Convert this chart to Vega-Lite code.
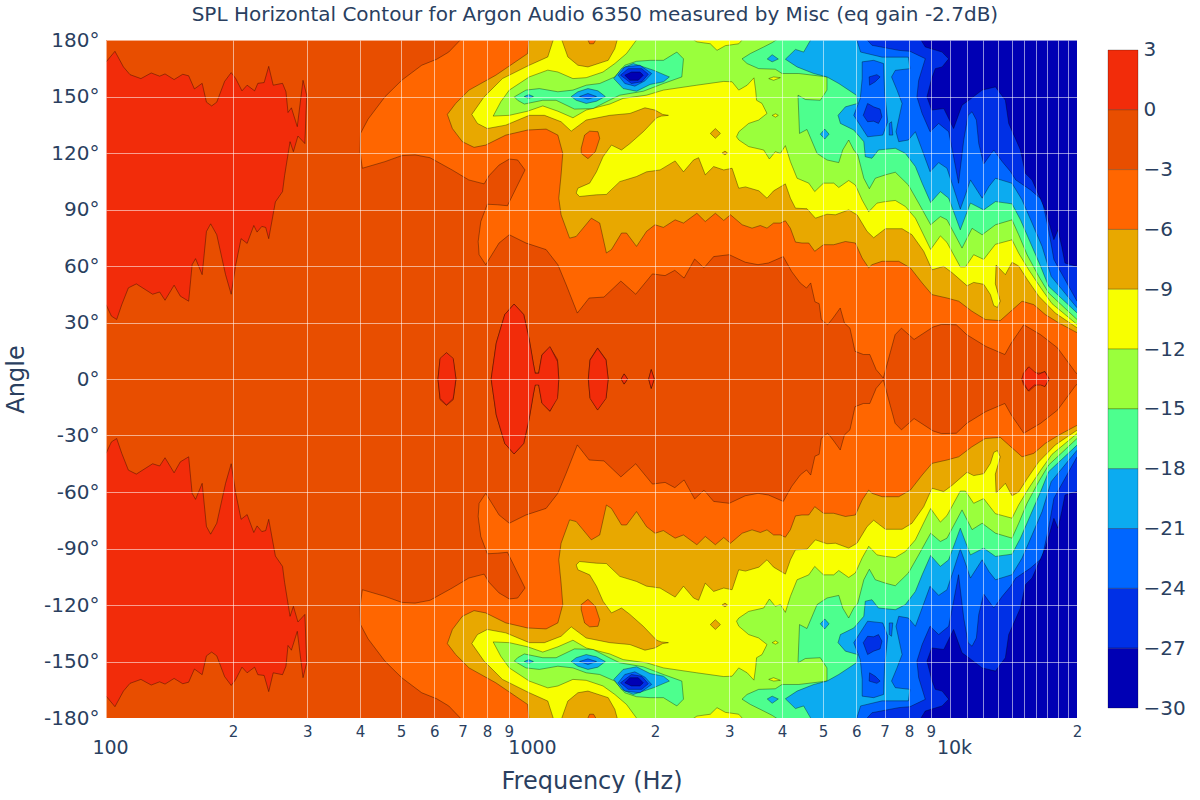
{"$schema":"https://vega.github.io/schema/vega-lite/v6.json","padding":{"left":4,"top":5,"right":0,"bottom":0},"title":{"text":"SPL Horizontal Contour for Argon Audio 6350 measured by Misc (eq gain -2.7dB)","font":"DejaVu Sans","fontSize":20,"fontWeight":"normal","color":"#2a3f5f","anchor":"middle","offset":5},"config":{"view":{"stroke":null},"font":"DejaVu Sans"},"spacing":25,
"datasets":{"bands":[{"l":0,"lo":0,"hi":3},{"l":-3,"lo":-3,"hi":0},{"l":-6,"lo":-6,"hi":-3},{"l":-9,"lo":-9,"hi":-6},{"l":-12,"lo":-12,"hi":-9},{"l":-15,"lo":-15,"hi":-12},{"l":-18,"lo":-18,"hi":-15},{"l":-21,"lo":-21,"hi":-18},{"l":-24,"lo":-24,"hi":-21},{"l":-27,"lo":-27,"hi":-24},{"l":-30,"lo":-30,"hi":-27}],
"poly":[
{"p":1,"l":0,"f":98,"a":168.3},{"p":1,"l":0,"f":100,"a":168.3},{"p":1,"l":0,"f":105,"a":174},{"p":1,"l":0,"f":110,"a":165.7},{"p":1,"l":0,"f":114,"a":161.6},{"p":1,"l":0,"f":121,"a":159.5},{"p":1,"l":0,"f":128,"a":162.5},{"p":1,"l":0,"f":134,"a":160.8},{"p":1,"l":0,"f":138,"a":162},{"p":1,"l":0,"f":145,"a":159},{"p":1,"l":0,"f":152,"a":161.8},{"p":1,"l":0,"f":157,"a":161},{"p":1,"l":0,"f":162,"a":154},{"p":1,"l":0,"f":169,"a":157},{"p":1,"l":0,"f":173,"a":147},{"p":1,"l":0,"f":178,"a":145},{"p":1,"l":0,"f":183,"a":147},{"p":1,"l":0,"f":191,"a":158},{"p":1,"l":0,"f":198,"a":162.7},{"p":1,"l":0,"f":203,"a":159.5},{"p":1,"l":0,"f":210,"a":153},{"p":1,"l":0,"f":216,"a":156},{"p":1,"l":0,"f":225,"a":153},{"p":1,"l":0,"f":229,"a":157},{"p":1,"l":0,"f":237,"a":157.4},{"p":1,"l":0,"f":243,"a":166},{"p":1,"l":0,"f":249,"a":156},{"p":1,"l":0,"f":262,"a":157},{"p":1,"l":0,"f":267,"a":152.5},{"p":1,"l":0,"f":270,"a":141.5},{"p":1,"l":0,"f":275,"a":144},{"p":1,"l":0,"f":284,"a":134},{"p":1,"l":0,"f":293,"a":158.6},{"p":1,"l":0,"f":299,"a":150.7},{"p":1,"l":0,"f":296,"a":125},{"p":1,"l":0,"f":285,"a":129},{"p":1,"l":0,"f":278,"a":120.7},{"p":1,"l":0,"f":273,"a":126},{"p":1,"l":0,"f":265,"a":108},{"p":1,"l":0,"f":262,"a":99.5},{"p":1,"l":0,"f":252,"a":94},{"p":1,"l":0,"f":243,"a":74.5},{"p":1,"l":0,"f":239,"a":80.5},{"p":1,"l":0,"f":234,"a":81},{"p":1,"l":0,"f":228,"a":78},{"p":1,"l":0,"f":224,"a":81.5},{"p":1,"l":0,"f":216,"a":72},{"p":1,"l":0,"f":209,"a":74.5},{"p":1,"l":0,"f":203,"a":60.7},{"p":1,"l":0,"f":198,"a":45},{"p":1,"l":0,"f":192,"a":55.4},{"p":1,"l":0,"f":183,"a":76.6},{"p":1,"l":0,"f":177,"a":82.4},{"p":1,"l":0,"f":173,"a":78.3},{"p":1,"l":0,"f":169,"a":55.4},{"p":1,"l":0,"f":163,"a":63.9},{"p":1,"l":0,"f":160,"a":60.7},{"p":1,"l":0,"f":157,"a":41.3},{"p":1,"l":0,"f":150,"a":44},{"p":1,"l":0,"f":145,"a":49.8},{"p":1,"l":0,"f":138,"a":41.8},{"p":1,"l":0,"f":134,"a":46.2},{"p":1,"l":0,"f":129,"a":45},{"p":1,"l":0,"f":118,"a":50.5},{"p":1,"l":0,"f":113,"a":48.4},{"p":1,"l":0,"f":109,"a":39.5},{"p":1,"l":0,"f":106,"a":31.6},{"p":1,"l":0,"f":103,"a":33.4},{"p":1,"l":0,"f":100,"a":39.5},{"p":1,"l":0,"f":98,"a":39.5},
{"p":2,"l":-6,"f":705,"a":182},{"p":2,"l":-6,"f":649,"a":173.6},{"p":2,"l":-6,"f":608,"a":169.8},{"p":2,"l":-6,"f":560,"a":166.6},{"p":2,"l":-6,"f":502,"a":158.6},{"p":2,"l":-6,"f":458,"a":149.8},{"p":2,"l":-6,"f":418,"a":138},{"p":2,"l":-6,"f":401,"a":130.4},{"p":2,"l":-6,"f":400,"a":120.7},{"p":2,"l":-6,"f":405,"a":111.9},{"p":2,"l":-6,"f":458,"a":115.4},{"p":2,"l":-6,"f":502,"a":118.6},{"p":2,"l":-6,"f":540,"a":119},{"p":2,"l":-6,"f":586,"a":117.5},{"p":2,"l":-6,"f":661,"a":111},{"p":2,"l":-6,"f":724,"a":105.7},{"p":2,"l":-6,"f":787,"a":103.6},{"p":2,"l":-6,"f":809,"a":108},{"p":2,"l":-6,"f":854,"a":113.6},{"p":2,"l":-6,"f":903,"a":116.8},{"p":2,"l":-6,"f":945,"a":116.3},{"p":2,"l":-6,"f":984,"a":111},{"p":2,"l":-6,"f":945,"a":103},{"p":2,"l":-6,"f":894,"a":92},{"p":2,"l":-6,"f":847,"a":92.5},{"p":2,"l":-6,"f":801,"a":92.8},{"p":2,"l":-6,"f":773,"a":83.6},{"p":2,"l":-6,"f":762,"a":73},{"p":2,"l":-6,"f":766,"a":66},{"p":2,"l":-6,"f":794,"a":60.7},{"p":2,"l":-6,"f":854,"a":72.2},{"p":2,"l":-6,"f":903,"a":76.6},{"p":2,"l":-6,"f":989,"a":72.2},{"p":2,"l":-6,"f":1104,"a":68.7},{"p":2,"l":-6,"f":1177,"a":60.7},{"p":2,"l":-6,"f":1232,"a":50},{"p":2,"l":-6,"f":1309,"a":35},{"p":2,"l":-6,"f":1396,"a":43},{"p":2,"l":-6,"f":1514,"a":43.5},{"p":2,"l":-6,"f":1660,"a":52},{"p":2,"l":-6,"f":1800,"a":45},{"p":2,"l":-6,"f":1972,"a":55.8},{"p":2,"l":-6,"f":2113,"a":54.9},{"p":2,"l":-6,"f":2228,"a":57.7},{"p":2,"l":-6,"f":2344,"a":53.6},{"p":2,"l":-6,"f":2483,"a":63.7},{"p":2,"l":-6,"f":2612,"a":59},{"p":2,"l":-6,"f":2754,"a":65},{"p":2,"l":-6,"f":2999,"a":66},{"p":2,"l":-6,"f":3273,"a":62},{"p":2,"l":-6,"f":3508,"a":60.7},{"p":2,"l":-6,"f":3715,"a":61.6},{"p":2,"l":-6,"f":4027,"a":65},{"p":2,"l":-6,"f":4217,"a":57},{"p":2,"l":-6,"f":4416,"a":51},{"p":2,"l":-6,"f":4571,"a":48.3},{"p":2,"l":-6,"f":4677,"a":51},{"p":2,"l":-6,"f":4786,"a":41},{"p":2,"l":-6,"f":4898,"a":40},{"p":2,"l":-6,"f":4955,"a":31.5},{"p":2,"l":-6,"f":5129,"a":28.8},{"p":2,"l":-6,"f":5284,"a":32.4},{"p":2,"l":-6,"f":5495,"a":37.7},{"p":2,"l":-6,"f":5623,"a":29.7},{"p":2,"l":-6,"f":5794,"a":27},{"p":2,"l":-6,"f":5957,"a":14.7},{"p":2,"l":-6,"f":6237,"a":13},{"p":2,"l":-6,"f":6457,"a":13},{"p":2,"l":-6,"f":6683,"a":5},{"p":2,"l":-6,"f":6950,"a":0.5},{"p":2,"l":-6,"f":7413,"a":23.5},{"p":2,"l":-6,"f":7674,"a":27},{"p":2,"l":-6,"f":8222,"a":21},{"p":2,"l":-6,"f":9120,"a":27.6},{"p":2,"l":-6,"f":9550,"a":29},{"p":2,"l":-6,"f":10351,"a":28.8},{"p":2,"l":-6,"f":10965,"a":23.5},{"p":2,"l":-6,"f":12161,"a":17.3},{"p":2,"l":-6,"f":13490,"a":13},{"p":2,"l":-6,"f":13964,"a":19},{"p":2,"l":-6,"f":14962,"a":28.8},{"p":2,"l":-6,"f":16406,"a":23.5},{"p":2,"l":-6,"f":17989,"a":16.5},{"p":2,"l":-6,"f":19770,"a":4},{"p":2,"l":-6,"f":20500,"a":0},{"p":2,"l":-6,"f":20500,"a":182},
{"p":3,"l":-9,"f":1007,"a":182},{"p":3,"l":-9,"f":998,"a":172.8},{"p":3,"l":-9,"f":839,"a":161.3},{"p":3,"l":-9,"f":725,"a":153.4},{"p":3,"l":-9,"f":674,"a":146.3},{"p":3,"l":-9,"f":644,"a":140.5},{"p":3,"l":-9,"f":662,"a":133},{"p":3,"l":-9,"f":699,"a":126},{"p":3,"l":-9,"f":745,"a":123},{"p":3,"l":-9,"f":794,"a":124.2},{"p":3,"l":-9,"f":886,"a":129.5},{"p":3,"l":-9,"f":998,"a":132.2},{"p":3,"l":-9,"f":1104,"a":132.7},{"p":3,"l":-9,"f":1177,"a":129.5},{"p":3,"l":-9,"f":1209,"a":119.8},{"p":3,"l":-9,"f":1198,"a":108.4},{"p":3,"l":-9,"f":1183,"a":96},{"p":3,"l":-9,"f":1198,"a":87.2},{"p":3,"l":-9,"f":1255,"a":74.8},{"p":3,"l":-9,"f":1301,"a":75.7},{"p":3,"l":-9,"f":1413,"a":85.4},{"p":3,"l":-9,"f":1479,"a":82.8},{"p":3,"l":-9,"f":1534,"a":66.9},{"p":3,"l":-9,"f":1577,"a":68.7},{"p":3,"l":-9,"f":1666,"a":77.5},{"p":3,"l":-9,"f":1712,"a":77.5},{"p":3,"l":-9,"f":1808,"a":70.4},{"p":3,"l":-9,"f":1910,"a":78.4},{"p":3,"l":-9,"f":2000,"a":81.9},{"p":3,"l":-9,"f":2094,"a":80.5},{"p":3,"l":-9,"f":2232,"a":84.5},{"p":3,"l":-9,"f":2336,"a":82.8},{"p":3,"l":-9,"f":2513,"a":88},{"p":3,"l":-9,"f":2631,"a":83.6},{"p":3,"l":-9,"f":2780,"a":88},{"p":3,"l":-9,"f":2910,"a":84.2},{"p":3,"l":-9,"f":3019,"a":87.2},{"p":3,"l":-9,"f":3218,"a":81.9},{"p":3,"l":-9,"f":3396,"a":80.1},{"p":3,"l":-9,"f":3553,"a":81.5},{"p":3,"l":-9,"f":3685,"a":80.1},{"p":3,"l":-9,"f":3820,"a":82.8},{"p":3,"l":-9,"f":3964,"a":82.8},{"p":3,"l":-9,"f":4073,"a":84},{"p":3,"l":-9,"f":4187,"a":80},{"p":3,"l":-9,"f":4304,"a":72.7},{"p":3,"l":-9,"f":4458,"a":72.2},{"p":3,"l":-9,"f":4628,"a":72.2},{"p":3,"l":-9,"f":4781,"a":67.8},{"p":3,"l":-9,"f":5015,"a":71.3},{"p":3,"l":-9,"f":5304,"a":71.3},{"p":3,"l":-9,"f":5651,"a":73},{"p":3,"l":-9,"f":5968,"a":72.2},{"p":3,"l":-9,"f":6194,"a":64.2},{"p":3,"l":-9,"f":6419,"a":59},{"p":3,"l":-9,"f":6534,"a":60.7},{"p":3,"l":-9,"f":6904,"a":62.5},{"p":3,"l":-9,"f":7560,"a":62.5},{"p":3,"l":-9,"f":8055,"a":59},{"p":3,"l":-9,"f":8590,"a":51},{"p":3,"l":-9,"f":9067,"a":44.8},{"p":3,"l":-9,"f":9842,"a":43},{"p":3,"l":-9,"f":10490,"a":41.3},{"p":3,"l":-9,"f":11270,"a":36},{"p":3,"l":-9,"f":12130,"a":31.6},{"p":3,"l":-9,"f":13160,"a":31},{"p":3,"l":-9,"f":13780,"a":35},{"p":3,"l":-9,"f":14820,"a":41.3},{"p":3,"l":-9,"f":15790,"a":39.5},{"p":3,"l":-9,"f":16830,"a":34.2},{"p":3,"l":-9,"f":18110,"a":29.8},{"p":3,"l":-9,"f":20000,"a":24.6},{"p":3,"l":-9,"f":20500,"a":24},{"p":3,"l":-9,"f":20500,"a":182},
{"p":4,"l":-12,"f":1155,"a":182},{"p":4,"l":-12,"f":1114,"a":171},{"p":4,"l":-12,"f":1007,"a":166.6},{"p":4,"l":-12,"f":870,"a":159.5},{"p":4,"l":-12,"f":787,"a":149.8},{"p":4,"l":-12,"f":736,"a":140.5},{"p":4,"l":-12,"f":759,"a":135.7},{"p":4,"l":-12,"f":801,"a":133},{"p":4,"l":-12,"f":886,"a":134.8},{"p":4,"l":-12,"f":1007,"a":140},{"p":4,"l":-12,"f":1094,"a":140},{"p":4,"l":-12,"f":1198,"a":136.6},{"p":4,"l":-12,"f":1266,"a":131.6},{"p":4,"l":-12,"f":1374,"a":137.5},{"p":4,"l":-12,"f":1563,"a":140},{"p":4,"l":-12,"f":1744,"a":141},{"p":4,"l":-12,"f":1893,"a":144},{"p":4,"l":-12,"f":2000,"a":142.8},{"p":4,"l":-12,"f":2085,"a":140.5},{"p":4,"l":-12,"f":2152,"a":140},{"p":4,"l":-12,"f":2070,"a":139.6},{"p":4,"l":-12,"f":2018,"a":138.7},{"p":4,"l":-12,"f":1876,"a":131.3},{"p":4,"l":-12,"f":1744,"a":125},{"p":4,"l":-12,"f":1666,"a":121.6},{"p":4,"l":-12,"f":1577,"a":124.2},{"p":4,"l":-12,"f":1506,"a":118},{"p":4,"l":-12,"f":1453,"a":110},{"p":4,"l":-12,"f":1400,"a":104},{"p":4,"l":-12,"f":1313,"a":101.3},{"p":4,"l":-12,"f":1301,"a":98.7},{"p":4,"l":-12,"f":1325,"a":96.9},{"p":4,"l":-12,"f":1453,"a":97.8},{"p":4,"l":-12,"f":1534,"a":98},{"p":4,"l":-12,"f":1650,"a":104.8},{"p":4,"l":-12,"f":1808,"a":107.5},{"p":4,"l":-12,"f":1910,"a":110},{"p":4,"l":-12,"f":2056,"a":111},{"p":4,"l":-12,"f":2232,"a":115.8},{"p":4,"l":-12,"f":2336,"a":110},{"p":4,"l":-12,"f":2468,"a":116.3},{"p":4,"l":-12,"f":2537,"a":117.5},{"p":4,"l":-12,"f":2631,"a":108.4},{"p":4,"l":-12,"f":2754,"a":112.8},{"p":4,"l":-12,"f":2910,"a":111},{"p":4,"l":-12,"f":3045,"a":111.9},{"p":4,"l":-12,"f":3158,"a":101.3},{"p":4,"l":-12,"f":3277,"a":102},{"p":4,"l":-12,"f":3526,"a":99.9},{"p":4,"l":-12,"f":3685,"a":96},{"p":4,"l":-12,"f":3820,"a":99.9},{"p":4,"l":-12,"f":4073,"a":103.6},{"p":4,"l":-12,"f":4187,"a":96},{"p":4,"l":-12,"f":4304,"a":90.7},{"p":4,"l":-12,"f":4583,"a":90.4},{"p":4,"l":-12,"f":4799,"a":85.4},{"p":4,"l":-12,"f":5111,"a":87.5},{"p":4,"l":-12,"f":5353,"a":87.2},{"p":4,"l":-12,"f":5754,"a":89.8},{"p":4,"l":-12,"f":6022,"a":87.2},{"p":4,"l":-12,"f":6360,"a":78.4},{"p":4,"l":-12,"f":6594,"a":75},{"p":4,"l":-12,"f":7030,"a":79.8},{"p":4,"l":-12,"f":7700,"a":79.8},{"p":4,"l":-12,"f":8127,"a":76.6},{"p":4,"l":-12,"f":8665,"a":67.8},{"p":4,"l":-12,"f":9067,"a":58},{"p":4,"l":-12,"f":9660,"a":59.8},{"p":4,"l":-12,"f":10110,"a":56.5},{"p":4,"l":-12,"f":10980,"a":49.5},{"p":4,"l":-12,"f":11380,"a":51.3},{"p":4,"l":-12,"f":12020,"a":50.3},{"p":4,"l":-12,"f":12470,"a":44.8},{"p":4,"l":-12,"f":12700,"a":39},{"p":4,"l":-12,"f":12950,"a":38},{"p":4,"l":-12,"f":13160,"a":41.3},{"p":4,"l":-12,"f":12810,"a":50.5},{"p":4,"l":-12,"f":12860,"a":60.5},{"p":4,"l":-12,"f":13530,"a":55.4},{"p":4,"l":-12,"f":14030,"a":62},{"p":4,"l":-12,"f":14550,"a":60},{"p":4,"l":-12,"f":15230,"a":53},{"p":4,"l":-12,"f":16230,"a":44},{"p":4,"l":-12,"f":17770,"a":35},{"p":4,"l":-12,"f":20000,"a":27.2},{"p":4,"l":-12,"f":20500,"a":27},{"p":4,"l":-12,"f":20500,"a":182},
{"p":5,"l":-15,"f":1835,"a":182},{"p":5,"l":-15,"f":1712,"a":172.8},{"p":5,"l":-15,"f":1606,"a":167.5},{"p":5,"l":-15,"f":1506,"a":163},{"p":5,"l":-15,"f":1374,"a":160},{"p":5,"l":-15,"f":1278,"a":159.5},{"p":5,"l":-15,"f":1177,"a":163},{"p":5,"l":-15,"f":1114,"a":164},{"p":5,"l":-15,"f":1007,"a":160.4},{"p":5,"l":-15,"f":903,"a":153.4},{"p":5,"l":-15,"f":862,"a":147.2},{"p":5,"l":-15,"f":827,"a":139.6},{"p":5,"l":-15,"f":903,"a":140},{"p":5,"l":-15,"f":998,"a":142.2},{"p":5,"l":-15,"f":1084,"a":145},{"p":5,"l":-15,"f":1177,"a":142.2},{"p":5,"l":-15,"f":1278,"a":138.7},{"p":5,"l":-15,"f":1374,"a":142.8},{"p":5,"l":-15,"f":1563,"a":146},{"p":5,"l":-15,"f":1681,"a":149},{"p":5,"l":-15,"f":1910,"a":150.7},{"p":5,"l":-15,"f":2094,"a":153.4},{"p":5,"l":-15,"f":2513,"a":156},{"p":5,"l":-15,"f":2910,"a":158},{"p":5,"l":-15,"f":3045,"a":157.8},{"p":5,"l":-15,"f":3158,"a":153.4},{"p":5,"l":-15,"f":3307,"a":156},{"p":5,"l":-15,"f":3431,"a":159.9},{"p":5,"l":-15,"f":3463,"a":153.4},{"p":5,"l":-15,"f":3481,"a":148},{"p":5,"l":-15,"f":3586,"a":146.3},{"p":5,"l":-15,"f":3685,"a":141},{"p":5,"l":-15,"f":3521,"a":137.5},{"p":5,"l":-15,"f":3334,"a":135.7},{"p":5,"l":-15,"f":3160,"a":131.3},{"p":5,"l":-15,"f":3120,"a":128.6},{"p":5,"l":-15,"f":3160,"a":126.9},{"p":5,"l":-15,"f":3334,"a":123.4},{"p":5,"l":-15,"f":3619,"a":121.6},{"p":5,"l":-15,"f":3733,"a":116.8},{"p":5,"l":-15,"f":3855,"a":120.7},{"p":5,"l":-15,"f":3964,"a":119.8},{"p":5,"l":-15,"f":4073,"a":123.9},{"p":5,"l":-15,"f":4187,"a":115.4},{"p":5,"l":-15,"f":4342,"a":106.6},{"p":5,"l":-15,"f":4628,"a":104},{"p":5,"l":-15,"f":4781,"a":99.5},{"p":5,"l":-15,"f":5015,"a":104},{"p":5,"l":-15,"f":5304,"a":104},{"p":5,"l":-15,"f":5451,"a":101.7},{"p":5,"l":-15,"f":5754,"a":105.4},{"p":5,"l":-15,"f":5968,"a":103},{"p":5,"l":-15,"f":6194,"a":95},{"p":5,"l":-15,"f":6419,"a":88.8},{"p":5,"l":-15,"f":6716,"a":93.4},{"p":5,"l":-15,"f":7030,"a":94.2},{"p":5,"l":-15,"f":7422,"a":94.8},{"p":5,"l":-15,"f":7840,"a":91.6},{"p":5,"l":-15,"f":8280,"a":85.4},{"p":5,"l":-15,"f":9000,"a":68.8},{"p":5,"l":-15,"f":9490,"a":76},{"p":5,"l":-15,"f":9840,"a":72.5},{"p":5,"l":-15,"f":10580,"a":59.5},{"p":5,"l":-15,"f":10880,"a":59.5},{"p":5,"l":-15,"f":11380,"a":66},{"p":5,"l":-15,"f":12020,"a":63.5},{"p":5,"l":-15,"f":12810,"a":71.5},{"p":5,"l":-15,"f":14030,"a":73.9},{"p":5,"l":-15,"f":14550,"a":66.8},{"p":5,"l":-15,"f":15370,"a":58},{"p":5,"l":-15,"f":16400,"a":48.5},{"p":5,"l":-15,"f":17450,"a":40},{"p":5,"l":-15,"f":20000,"a":29},{"p":5,"l":-15,"f":20500,"a":29},{"p":5,"l":-15,"f":20500,"a":182},
{"p":6,"l":-18,"f":928,"a":149.8},{"p":6,"l":-18,"f":989,"a":153.4},{"p":6,"l":-18,"f":1064,"a":154.2},{"p":6,"l":-18,"f":1177,"a":152.5},{"p":6,"l":-18,"f":1278,"a":153.4},{"p":6,"l":-18,"f":1374,"a":156},{"p":6,"l":-18,"f":1479,"a":156.9},{"p":6,"l":-18,"f":1606,"a":160.4},{"p":6,"l":-18,"f":1696,"a":166.6},{"p":6,"l":-18,"f":1808,"a":168.7},{"p":6,"l":-18,"f":1947,"a":169.2},{"p":6,"l":-18,"f":2094,"a":169.2},{"p":6,"l":-18,"f":2253,"a":173.6},{"p":6,"l":-18,"f":2336,"a":170},{"p":6,"l":-18,"f":2315,"a":160.4},{"p":6,"l":-18,"f":2094,"a":156.9},{"p":6,"l":-18,"f":1876,"a":152.8},{"p":6,"l":-18,"f":1650,"a":150.7},{"p":6,"l":-18,"f":1549,"a":147.7},{"p":6,"l":-18,"f":1426,"a":143.6},{"p":6,"l":-18,"f":1289,"a":143.3},{"p":6,"l":-18,"f":1166,"a":148},{"p":6,"l":-18,"f":1084,"a":148},{"p":6,"l":-18,"f":980,"a":146},{"p":6,"l":-18,"f":945,"a":148},
{"p":7,"l":-18,"f":4000,"a":182},{"p":7,"l":-18,"f":3790,"a":178.6},{"p":7,"l":-18,"f":3619,"a":176.3},{"p":7,"l":-18,"f":3365,"a":172.8},{"p":7,"l":-18,"f":3215,"a":170},{"p":7,"l":-18,"f":3305,"a":167.5},{"p":7,"l":-18,"f":3521,"a":164.8},{"p":7,"l":-18,"f":3855,"a":164.5},{"p":7,"l":-18,"f":4000,"a":162.2},{"p":7,"l":-18,"f":4384,"a":162.2},{"p":7,"l":-18,"f":5111,"a":160.4},{"p":7,"l":-18,"f":5111,"a":153.4},{"p":7,"l":-18,"f":4929,"a":148},{"p":7,"l":-18,"f":4543,"a":148.4},{"p":7,"l":-18,"f":4364,"a":150.7},{"p":7,"l":-18,"f":4400,"a":130.4},{"p":7,"l":-18,"f":4583,"a":132.5},{"p":7,"l":-18,"f":4843,"a":119.8},{"p":7,"l":-18,"f":5111,"a":116.3},{"p":7,"l":-18,"f":5451,"a":114.9},{"p":7,"l":-18,"f":5569,"a":121.6},{"p":7,"l":-18,"f":5754,"a":126.9},{"p":7,"l":-18,"f":5916,"a":121.6},{"p":7,"l":-18,"f":6048,"a":119},{"p":7,"l":-18,"f":6249,"a":106.6},{"p":7,"l":-18,"f":6441,"a":101},{"p":7,"l":-18,"f":6653,"a":106.6},{"p":7,"l":-18,"f":7030,"a":108.4},{"p":7,"l":-18,"f":7422,"a":109.8},{"p":7,"l":-18,"f":7970,"a":103},{"p":7,"l":-18,"f":8430,"a":93.4},{"p":7,"l":-18,"f":9000,"a":81.9},{"p":7,"l":-18,"f":9490,"a":86.3},{"p":7,"l":-18,"f":9840,"a":84.5},{"p":7,"l":-18,"f":10680,"a":69.5},{"p":7,"l":-18,"f":11280,"a":80},{"p":7,"l":-18,"f":11920,"a":76.6},{"p":7,"l":-18,"f":12820,"a":81.9},{"p":7,"l":-18,"f":14030,"a":84.5},{"p":7,"l":-18,"f":14550,"a":76.6},{"p":7,"l":-18,"f":15230,"a":66},{"p":7,"l":-18,"f":16230,"a":54.5},{"p":7,"l":-18,"f":17130,"a":45.7},{"p":7,"l":-18,"f":20000,"a":31.6},{"p":7,"l":-18,"f":20500,"a":31},{"p":7,"l":-18,"f":20500,"a":182},
{"p":8,"l":-21,"f":4731,"a":182},{"p":8,"l":-21,"f":4500,"a":173.6},{"p":8,"l":-21,"f":4304,"a":175},{"p":8,"l":-21,"f":4073,"a":169.8},{"p":8,"l":-21,"f":4342,"a":165.7},{"p":8,"l":-21,"f":4756,"a":162.2},{"p":8,"l":-21,"f":5111,"a":160.4},{"p":8,"l":-21,"f":5451,"a":156.9},{"p":8,"l":-21,"f":6000,"a":150.7},{"p":8,"l":-21,"f":6035,"a":146.3},{"p":8,"l":-21,"f":5651,"a":144.5},{"p":8,"l":-21,"f":5430,"a":140},{"p":8,"l":-21,"f":5500,"a":135.7},{"p":8,"l":-21,"f":5916,"a":132.2},{"p":8,"l":-21,"f":6249,"a":126},{"p":8,"l":-21,"f":6300,"a":118},{"p":8,"l":-21,"f":6534,"a":117.2},{"p":8,"l":-21,"f":6770,"a":121.6},{"p":8,"l":-21,"f":7422,"a":122.5},{"p":8,"l":-21,"f":7840,"a":119.8},{"p":8,"l":-21,"f":8280,"a":112.8},{"p":8,"l":-21,"f":8590,"a":104},{"p":8,"l":-21,"f":9000,"a":93.7},{"p":8,"l":-21,"f":9490,"a":99.5},{"p":8,"l":-21,"f":9930,"a":96},{"p":8,"l":-21,"f":10580,"a":79.2},{"p":8,"l":-21,"f":11180,"a":93.4},{"p":8,"l":-21,"f":12020,"a":89.8},{"p":8,"l":-21,"f":12820,"a":94.2},{"p":8,"l":-21,"f":14030,"a":93},{"p":8,"l":-21,"f":14690,"a":84.5},{"p":8,"l":-21,"f":15520,"a":72.2},{"p":8,"l":-21,"f":16400,"a":59.8},{"p":8,"l":-21,"f":17130,"a":49.2},{"p":8,"l":-21,"f":20000,"a":35.1},{"p":8,"l":-21,"f":20500,"a":35},{"p":8,"l":-21,"f":20500,"a":182},
{"p":9,"l":-24,"f":5976,"a":182},{"p":9,"l":-24,"f":6140,"a":173.6},{"p":9,"l":-24,"f":6904,"a":170.9},{"p":9,"l":-24,"f":7970,"a":170.9},{"p":9,"l":-24,"f":8040,"a":164.8},{"p":9,"l":-24,"f":7422,"a":163.9},{"p":9,"l":-24,"f":7270,"a":160.4},{"p":9,"l":-24,"f":7490,"a":153.4},{"p":9,"l":-24,"f":7700,"a":146.3},{"p":9,"l":-24,"f":7450,"a":131.3},{"p":9,"l":-24,"f":7560,"a":126},{"p":9,"l":-24,"f":7970,"a":126.9},{"p":9,"l":-24,"f":8280,"a":131.3},{"p":9,"l":-24,"f":8590,"a":121.6},{"p":9,"l":-24,"f":8970,"a":110.1},{"p":9,"l":-24,"f":9400,"a":114.9},{"p":9,"l":-24,"f":9840,"a":111.9},{"p":9,"l":-24,"f":10200,"a":101.3},{"p":9,"l":-24,"f":10580,"a":90.2},{"p":9,"l":-24,"f":10880,"a":97.8},{"p":9,"l":-24,"f":11180,"a":105.7},{"p":9,"l":-24,"f":11920,"a":96},{"p":9,"l":-24,"f":12370,"a":102.2},{"p":9,"l":-24,"f":12820,"a":106.6},{"p":9,"l":-24,"f":14030,"a":103.9},{"p":9,"l":-24,"f":14820,"a":95.1},{"p":9,"l":-24,"f":15650,"a":82.8},{"p":9,"l":-24,"f":16530,"a":70.4},{"p":9,"l":-24,"f":17370,"a":54.5},{"p":9,"l":-24,"f":20000,"a":37.8},{"p":9,"l":-24,"f":20500,"a":37},{"p":9,"l":-24,"f":20500,"a":182},
{"p":10,"l":-24,"f":6194,"a":168.4},{"p":10,"l":-24,"f":6594,"a":169.2},{"p":10,"l":-24,"f":6960,"a":167.5},{"p":10,"l":-24,"f":7000,"a":152.5},{"p":10,"l":-24,"f":7120,"a":136.6},{"p":10,"l":-24,"f":6930,"a":129.5},{"p":10,"l":-24,"f":6380,"a":128.6},{"p":10,"l":-24,"f":5916,"a":140},{"p":10,"l":-24,"f":6130,"a":149},{"p":10,"l":-24,"f":6194,"a":159.5},
{"p":11,"l":-27,"f":6249,"a":182},{"p":11,"l":-27,"f":6534,"a":177.2},{"p":11,"l":-27,"f":7560,"a":174.5},{"p":11,"l":-27,"f":8040,"a":174},{"p":11,"l":-27,"f":8740,"a":170.1},{"p":11,"l":-27,"f":8430,"a":158.6},{"p":11,"l":-27,"f":8350,"a":149.8},{"p":11,"l":-27,"f":8590,"a":141},{"p":11,"l":-27,"f":8970,"a":131.3},{"p":11,"l":-27,"f":9400,"a":135.7},{"p":11,"l":-27,"f":9930,"a":131.3},{"p":11,"l":-27,"f":10200,"a":118},{"p":11,"l":-27,"f":10480,"a":103.9},{"p":11,"l":-27,"f":10780,"a":126.9},{"p":11,"l":-27,"f":11040,"a":140},{"p":11,"l":-27,"f":11280,"a":141.9},{"p":11,"l":-27,"f":11550,"a":137.5},{"p":11,"l":-27,"f":11700,"a":125},{"p":11,"l":-27,"f":12020,"a":114.2},{"p":11,"l":-27,"f":12700,"a":121.6},{"p":11,"l":-27,"f":13300,"a":115.4},{"p":11,"l":-27,"f":13920,"a":110.1},{"p":11,"l":-27,"f":14320,"a":105.7},{"p":11,"l":-27,"f":15520,"a":100.4},{"p":11,"l":-27,"f":16530,"a":95.1},{"p":11,"l":-27,"f":17130,"a":79.2},{"p":11,"l":-27,"f":17630,"a":63.4},{"p":11,"l":-27,"f":20000,"a":41.3},{"p":11,"l":-27,"f":20500,"a":41},{"p":11,"l":-27,"f":20500,"a":182},
{"p":12,"l":-30,"f":8430,"a":182},{"p":12,"l":-30,"f":8740,"a":176.3},{"p":12,"l":-30,"f":9580,"a":173.6},{"p":12,"l":-30,"f":9930,"a":170},{"p":12,"l":-30,"f":9580,"a":165.7},{"p":12,"l":-30,"f":9230,"a":164.8},{"p":12,"l":-30,"f":9050,"a":159.5},{"p":12,"l":-30,"f":8820,"a":149.8},{"p":12,"l":-30,"f":9050,"a":142.8},{"p":12,"l":-30,"f":9670,"a":143.6},{"p":12,"l":-30,"f":10200,"a":133},{"p":12,"l":-30,"f":10680,"a":145.4},{"p":12,"l":-30,"f":11080,"a":148},{"p":12,"l":-30,"f":11920,"a":153.4},{"p":12,"l":-30,"f":12820,"a":155.1},{"p":12,"l":-30,"f":13530,"a":148},{"p":12,"l":-30,"f":13780,"a":135.7},{"p":12,"l":-30,"f":14690,"a":121.6},{"p":12,"l":-30,"f":15090,"a":109.2},{"p":12,"l":-30,"f":15650,"a":105.7},{"p":12,"l":-30,"f":16830,"a":89.8},{"p":12,"l":-30,"f":17630,"a":74},{"p":12,"l":-30,"f":18030,"a":79.2},{"p":12,"l":-30,"f":18400,"a":70.4},{"p":12,"l":-30,"f":18730,"a":61.6},{"p":12,"l":-30,"f":20000,"a":59.8},{"p":12,"l":-30,"f":20500,"a":59.8},{"p":12,"l":-30,"f":20500,"a":182},
{"p":13,"l":-9,"f":1194,"a":182},{"p":13,"l":-9,"f":1243,"a":171},{"p":13,"l":-9,"f":1313,"a":166.6},{"p":13,"l":-9,"f":1387,"a":165.7},{"p":13,"l":-9,"f":1549,"a":169.2},{"p":13,"l":-9,"f":1606,"a":175.4},{"p":13,"l":-9,"f":1636,"a":182},
{"p":14,"l":-6,"f":1374,"a":182},{"p":14,"l":-6,"f":1400,"a":178},{"p":14,"l":-6,"f":1430,"a":178},{"p":14,"l":-6,"f":1465,"a":182},
{"p":15,"l":-6,"f":1337,"a":122.5},{"p":15,"l":-6,"f":1362,"a":129.5},{"p":15,"l":-6,"f":1400,"a":131.6},{"p":15,"l":-6,"f":1465,"a":131.3},{"p":15,"l":-6,"f":1479,"a":127.8},{"p":15,"l":-6,"f":1444,"a":120.7},{"p":15,"l":-6,"f":1387,"a":117},{"p":15,"l":-6,"f":1337,"a":119.8},
{"p":16,"l":-12,"f":2400,"a":182},{"p":16,"l":-12,"f":2513,"a":179},{"p":16,"l":-12,"f":2704,"a":178},{"p":16,"l":-12,"f":2805,"a":174.5},{"p":16,"l":-12,"f":2937,"a":177},{"p":16,"l":-12,"f":3158,"a":178},{"p":16,"l":-12,"f":3277,"a":182},
{"p":17,"l":-12,"f":3720,"a":159.5},{"p":17,"l":-12,"f":3820,"a":160.4},{"p":17,"l":-12,"f":3964,"a":160},{"p":17,"l":-12,"f":3820,"a":158.6},
{"p":18,"l":-12,"f":3790,"a":140},{"p":18,"l":-12,"f":3860,"a":140.8},{"p":18,"l":-12,"f":3920,"a":140},{"p":18,"l":-12,"f":3860,"a":139},
{"p":19,"l":-9,"f":2704,"a":130.4},{"p":19,"l":-9,"f":2780,"a":133},{"p":19,"l":-9,"f":2858,"a":130.4},{"p":19,"l":-9,"f":2780,"a":127.8},
{"p":20,"l":-9,"f":2884,"a":120},{"p":20,"l":-9,"f":2930,"a":121},{"p":20,"l":-9,"f":2970,"a":120},{"p":20,"l":-9,"f":2930,"a":119},
{"p":21,"l":-21,"f":1266,"a":150},{"p":21,"l":-21,"f":1313,"a":152.5},{"p":21,"l":-21,"f":1387,"a":154.2},{"p":21,"l":-21,"f":1465,"a":153},{"p":21,"l":-21,"f":1525,"a":150},{"p":21,"l":-21,"f":1453,"a":147.5},{"p":21,"l":-21,"f":1374,"a":146.3},{"p":21,"l":-21,"f":1301,"a":148},
{"p":22,"l":-24,"f":1325,"a":150},{"p":22,"l":-24,"f":1387,"a":151.6},{"p":22,"l":-24,"f":1453,"a":150},{"p":22,"l":-24,"f":1387,"a":148.6},
{"p":23,"l":-21,"f":1597,"a":159.5},{"p":23,"l":-21,"f":1666,"a":164.8},{"p":23,"l":-21,"f":1776,"a":167.5},{"p":23,"l":-21,"f":1981,"a":164},{"p":23,"l":-21,"f":2163,"a":160.4},{"p":23,"l":-21,"f":2094,"a":157.8},{"p":23,"l":-21,"f":1947,"a":156.4},{"p":23,"l":-21,"f":1808,"a":152.8},{"p":23,"l":-21,"f":1681,"a":154.2},
{"p":24,"l":-24,"f":1636,"a":161.3},{"p":24,"l":-24,"f":1696,"a":165.7},{"p":24,"l":-24,"f":1842,"a":166.6},{"p":24,"l":-24,"f":1964,"a":162.2},{"p":24,"l":-24,"f":1893,"a":158.3},{"p":24,"l":-24,"f":1792,"a":155.5},{"p":24,"l":-24,"f":1696,"a":156.9},
{"p":25,"l":-27,"f":1657,"a":161.3},{"p":25,"l":-27,"f":1728,"a":164.8},{"p":25,"l":-27,"f":1860,"a":164.8},{"p":25,"l":-27,"f":1928,"a":161.8},{"p":25,"l":-27,"f":1860,"a":157.8},{"p":25,"l":-27,"f":1759,"a":156.9},
{"p":26,"l":-30,"f":1696,"a":161.3},{"p":26,"l":-30,"f":1759,"a":163},{"p":26,"l":-30,"f":1842,"a":163},{"p":26,"l":-30,"f":1876,"a":161.3},{"p":26,"l":-30,"f":1825,"a":158.6},{"p":26,"l":-30,"f":1744,"a":158.6},
{"p":27,"l":-21,"f":980,"a":150},{"p":27,"l":-21,"f":1004,"a":151},{"p":27,"l":-21,"f":1030,"a":150},{"p":27,"l":-21,"f":1004,"a":149},
{"p":28,"l":-21,"f":3690,"a":169.9},{"p":28,"l":-21,"f":3790,"a":172.2},{"p":28,"l":-21,"f":3920,"a":169.9},{"p":28,"l":-21,"f":3790,"a":168.4},
{"p":29,"l":-21,"f":4929,"a":130},{"p":29,"l":-21,"f":5050,"a":132.7},{"p":29,"l":-21,"f":5170,"a":130},{"p":29,"l":-21,"f":5050,"a":127.4},
{"p":30,"l":-24,"f":7180,"a":135.7},{"p":30,"l":-24,"f":7270,"a":136.6},{"p":30,"l":-24,"f":7320,"a":129.5},{"p":30,"l":-24,"f":7180,"a":129.5},
{"p":31,"l":-27,"f":6434,"a":160.4},{"p":31,"l":-27,"f":6710,"a":161.6},{"p":31,"l":-27,"f":6830,"a":160.4},{"p":31,"l":-27,"f":6650,"a":157.8},{"p":31,"l":-27,"f":6450,"a":156},
{"p":32,"l":-27,"f":6230,"a":140},{"p":32,"l":-27,"f":6380,"a":146.3},{"p":32,"l":-27,"f":6594,"a":144.5},{"p":32,"l":-27,"f":6830,"a":143.3},{"p":32,"l":-27,"f":6900,"a":139.2},{"p":32,"l":-27,"f":6770,"a":135.7},{"p":32,"l":-27,"f":6594,"a":136.9},{"p":32,"l":-27,"f":6380,"a":136.6},
{"p":33,"l":0,"f":641,"a":13.8},{"p":33,"l":0,"f":665,"a":10.3},{"p":33,"l":0,"f":675,"a":0},{"p":33,"l":0,"f":665,"a":-11},{"p":33,"l":0,"f":641,"a":-14},{"p":33,"l":0,"f":619,"a":-11},{"p":33,"l":0,"f":612,"a":0},{"p":33,"l":0,"f":619,"a":10.3},
{"p":34,"l":0,"f":927,"a":39.8},{"p":34,"l":0,"f":977,"a":34.2},{"p":34,"l":0,"f":1007,"a":20.9},{"p":34,"l":0,"f":1030,"a":8},{"p":34,"l":0,"f":1040,"a":3.2},{"p":34,"l":0,"f":1060,"a":3.2},{"p":34,"l":0,"f":1079,"a":12.9},{"p":34,"l":0,"f":1127,"a":17},{"p":34,"l":0,"f":1175,"a":10.3},{"p":34,"l":0,"f":1183,"a":0},{"p":34,"l":0,"f":1175,"a":-9.2},{"p":34,"l":0,"f":1127,"a":-17.2},{"p":34,"l":0,"f":1079,"a":-12.7},{"p":34,"l":0,"f":1060,"a":-3},{"p":34,"l":0,"f":1040,"a":-3},{"p":34,"l":0,"f":1030,"a":-8},{"p":34,"l":0,"f":1007,"a":-20.9},{"p":34,"l":0,"f":977,"a":-34.2},{"p":34,"l":0,"f":927,"a":-39.8},{"p":34,"l":0,"f":881,"a":-34.2},{"p":34,"l":0,"f":841,"a":-19.1},{"p":34,"l":0,"f":818,"a":0},{"p":34,"l":0,"f":841,"a":19.1},{"p":34,"l":0,"f":881,"a":34.2},
{"p":35,"l":0,"f":1462,"a":16.5},{"p":35,"l":0,"f":1531,"a":10.3},{"p":35,"l":0,"f":1549,"a":0},{"p":35,"l":0,"f":1531,"a":-10},{"p":35,"l":0,"f":1462,"a":-16.3},{"p":35,"l":0,"f":1403,"a":-10},{"p":35,"l":0,"f":1390,"a":0},{"p":35,"l":0,"f":1403,"a":10.3},
{"p":36,"l":0,"f":1690,"a":2.7},{"p":36,"l":0,"f":1722,"a":0},{"p":36,"l":0,"f":1690,"a":-2.7},{"p":36,"l":0,"f":1663,"a":0},
{"p":37,"l":0,"f":1959,"a":5},{"p":37,"l":0,"f":1991,"a":0},{"p":37,"l":0,"f":1959,"a":-5},{"p":37,"l":0,"f":1932,"a":0},
{"p":38,"l":0,"f":14800,"a":0},{"p":38,"l":0,"f":15310,"a":6.2},{"p":38,"l":0,"f":15850,"a":3.2},{"p":38,"l":0,"f":16410,"a":3.2},{"p":38,"l":0,"f":16790,"a":4},{"p":38,"l":0,"f":17180,"a":0},{"p":38,"l":0,"f":16790,"a":-3.9},{"p":38,"l":0,"f":16220,"a":-2.5},{"p":38,"l":0,"f":15850,"a":-3.9},{"p":38,"l":0,"f":15380,"a":-6.5},{"p":38,"l":0,"f":14930,"a":-3}
]},
"hconcat":[
{"width":971,"height":678,"view":{"fill":"#e84e00","stroke":null},"layer":[
{"data":{"name":"poly"},"transform":[{"window":[{"op":"row_number","as":"i"}]}],"mark":{"type":"line","interpolate":"linear-closed","clip":true,"stroke":"#000000","strokeOpacity":0.5,"strokeWidth":0.7},"encoding":{"x":{"field":"f","type":"quantitative","scale":{"type":"log","domain":[100,20000],"nice":false},"axis":{"values":[100,200,300,400,500,600,700,800,900,1000,2000,3000,4000,5000,6000,7000,8000,9000,10000,11000,12000,13000,14000,15000,16000,17000,18000,19000,20000],"labelExpr":"datum.value==100?'100':datum.value==1000?'1000':datum.value==10000?'10k':datum.value<1000?format(datum.value/100,'d'):datum.value<10000?format(datum.value/1000,'d'):datum.value==20000?'2':''","labelOverlap":false,"labelBound":false,"labelFlush":false,"labelFontSize":{"condition":{"test":"datum.value==100||datum.value==1000||datum.value==10000","value":19},"value":15},"labelPadding":{"condition":{"test":"datum.value==100||datum.value==1000||datum.value==10000","value":20},"value":6},"labelOffset":{"condition":{"test":"datum.value==100||datum.value==1000||datum.value==10000","value":4},"value":0},"labelColor":"#2a3f5f","labelFont":"DejaVu Sans","ticks":false,"domain":false,"grid":true,"gridColor":"#ffffff","gridOpacity":0.55,"gridWidth":1,"zindex":1,"title":"Frequency (Hz)","titleFontSize":24,"titleFontWeight":"normal","titleColor":"#2a3f5f","titleFont":"DejaVu Sans","titlePadding":12}},"y":{"field":"a","type":"quantitative","scale":{"domain":[-180,180],"nice":false},"axis":{"values":[-180,-150,-120,-90,-60,-30,0,30,60,90,120,150,180],"labelExpr":"datum.value+'°'","labelFontSize":20,"labelColor":"#2a3f5f","labelFont":"DejaVu Sans","labelOverlap":false,"labelBound":false,"labelFlush":false,"labelPadding":7,"ticks":false,"domain":false,"grid":true,"gridColor":"#ffffff","gridOpacity":0.55,"gridWidth":1,"zindex":1,"title":"Angle","titleFontSize":24,"titleFontWeight":"normal","titleColor":"#2a3f5f","titleFont":"DejaVu Sans","titlePadding":15}},"fill":{"field":"l","type":"ordinal","scale":{"domain":[0,-3,-6,-9,-12,-15,-18,-21,-24,-27,-30],"range":["#f22c0a","#e84e00","#ff6600","#e8a800","#f8ff00","#9aff3c","#4dff8e","#0cabf0","#0066ff","#0030e6","#0000b4"]},"legend":null},"detail":{"field":"p"},"order":{"field":"i","type":"quantitative"}}},
{"data":{"name":"poly"},"transform":[{"window":[{"op":"row_number","as":"i"}]}],"mark":{"type":"line","interpolate":"linear-closed","clip":true,"stroke":"#000000","strokeOpacity":0.5,"strokeWidth":0.7},"encoding":{"x":{"field":"f","type":"quantitative","scale":{"type":"log","domain":[100,20000],"nice":false},"axis":null},"y":{"field":"a","type":"quantitative","scale":{"domain":[-180,180],"nice":false,"reverse":true},"axis":null},"fill":{"field":"l","type":"ordinal","scale":{"domain":[0,-3,-6,-9,-12,-15,-18,-21,-24,-27,-30],"range":["#f22c0a","#e84e00","#ff6600","#e8a800","#f8ff00","#9aff3c","#4dff8e","#0cabf0","#0066ff","#0030e6","#0000b4"]},"legend":null},"detail":{"field":"p"},"order":{"field":"i","type":"quantitative"}}}
],"resolve":{"scale":{"y":"independent"},"axis":{"x":"independent","y":"independent"}}},
{"width":30,"height":678,"data":{"name":"bands"},"mark":{"type":"rect","stroke":"#000000","strokeOpacity":0.35,"strokeWidth":0.7},"encoding":{"y":{"field":"lo","type":"quantitative","scale":{"domain":[-30.5,3.5],"nice":false},"axis":{"orient":"right","values":[-30,-27,-24,-21,-18,-15,-12,-9,-6,-3,0,3],"labelFontSize":20,"labelColor":"#2a3f5f","labelFont":"DejaVu Sans","labelPadding":5,"ticks":false,"domain":false,"grid":false,"title":null,"labelOverlap":false,"labelBound":false}},"y2":{"field":"hi"},"fill":{"field":"l","type":"ordinal","scale":{"domain":[0,-3,-6,-9,-12,-15,-18,-21,-24,-27,-30],"range":["#f22c0a","#e84e00","#ff6600","#e8a800","#f8ff00","#9aff3c","#4dff8e","#0cabf0","#0066ff","#0030e6","#0000b4"]},"legend":null}}}
]}
